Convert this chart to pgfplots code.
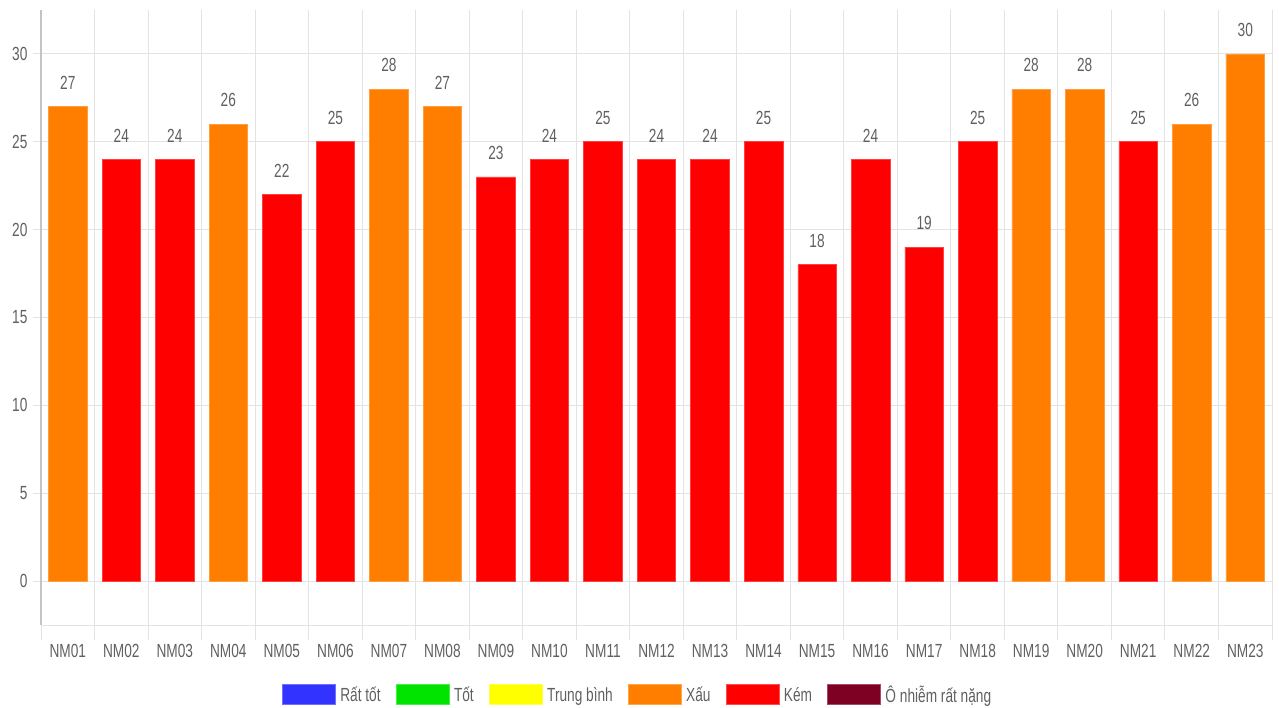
\documentclass[border=0pt]{standalone}
\usepackage{fontspec}
\setmainfont[FakeStretch=0.72]{Liberation Sans}
\usepackage{pgfplots}
\pgfplotsset{compat=1.18}
\definecolor{txt}{HTML}{606060}
\definecolor{grd}{HTML}{E3E3E3}
\definecolor{axl}{HTML}{C4C4C4}
\definecolor{cblue}{HTML}{3333FF}
\definecolor{cgreen}{HTML}{00E400}
\definecolor{cyellow}{HTML}{FFFF00}
\definecolor{corange}{HTML}{FF7E00}
\definecolor{cred}{HTML}{FF0000}
\definecolor{cmaroon}{HTML}{7E0023}
\newcommand\lf{\fontsize{19}{22}\selectfont}
\pgfplotstableread{
x y
0 27
3 26
6 28
7 27
18 28
19 28
21 26
22 30
}\orangedata
\pgfplotstableread{
x y
1 24
2 24
4 22
5 25
8 23
9 24
10 25
11 24
12 24
13 25
14 18
15 24
16 19
17 25
20 25
}\reddata
\begin{document}
\begin{tikzpicture}
\begin{axis}[
  scale only axis, width=1231pt, height=615pt,
  xmin=-0.5, xmax=22.5, ymin=-2.5, ymax=32.5,
  axis lines=left, axis line style={-},
  x axis line style={grd, line width=1pt},
  y axis line style={axl, line width=1.2pt},
  ytick={0,5,...,30},
  xtick={0,...,22},
  xticklabels={NM01,NM02,NM03,NM04,NM05,NM06,NM07,NM08,NM09,NM10,NM11,NM12,NM13,NM14,NM15,NM16,NM17,NM18,NM19,NM20,NM21,NM22,NM23},
  minor xtick={-0.5,0.5,...,22.5},
  xminorgrids=true, ymajorgrids=true,
  grid style={grd, line width=1pt},
  minor grid style={grd, line width=1pt},
  tick align=outside, major tick length=8pt, minor tick length=15pt,
  major x tick style={draw=none},
  minor x tick style={grd, line width=1pt},
  major y tick style={grd, line width=1pt},
  /pgf/number format/assume math mode=true,
  ticklabel style={font=\lf, text=txt},
  yticklabel style={xshift=-2pt},
  xticklabel style={yshift=-8pt},
  nodes near coords,
  every node near coord/.style={anchor=south, inner sep=0pt, yshift=17pt, font=\lf, text=txt},
  legend columns=6,
  legend cell align=left,
  legend image code/.code={\draw[#1] (0pt,-9pt) rectangle (53pt,11pt); \path[draw=none,fill=none] (0pt,0pt) -- (56pt,0pt);},
  legend style={at={(axis description cs:0.4846,-0.114)}, anchor=center, draw=none, fill=none, font=\lf, text=txt,
    /tikz/every even column/.append style={column sep=13pt}},
]
\addplot[ybar, bar width=0.72, bar shift=0pt, fill=corange, draw=corange!75!white, line width=0.6pt, forget plot] table[x=x,y=y] {\orangedata};
\addplot[ybar, bar width=0.72, bar shift=0pt, fill=cred, draw=cred!75!white, line width=0.6pt, forget plot] table[x=x,y=y] {\reddata};
\addlegendimage{fill=cblue, draw=cblue!70!white, line width=0.8pt}
\addlegendentry{Rất tốt}
\addlegendimage{fill=cgreen, draw=cgreen!70!white, line width=0.8pt}
\addlegendentry{Tốt}
\addlegendimage{fill=cyellow, draw=cyellow!70!white, line width=0.8pt}
\addlegendentry{Trung bình}
\addlegendimage{fill=corange, draw=corange!70!white, line width=0.8pt}
\addlegendentry{Xấu}
\addlegendimage{fill=cred, draw=cred!70!white, line width=0.8pt}
\addlegendentry{Kém}
\addlegendimage{fill=cmaroon, draw=cmaroon!70!white, line width=0.8pt}
\addlegendentry{Ô nhiễm rất nặng}
\end{axis}
\pgfresetboundingbox
\path (-41pt,-82pt) rectangle (1238pt,625pt);
\end{tikzpicture}
\end{document}
